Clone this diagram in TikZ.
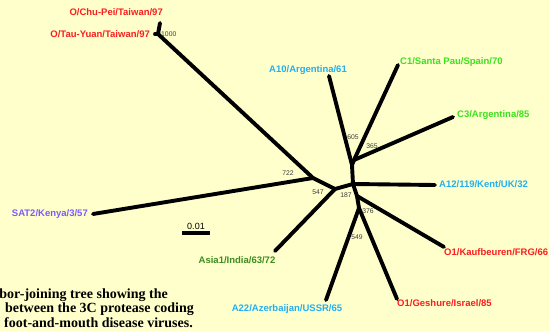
\documentclass[tikz,border=0pt]{standalone}
\usepackage{fontspec}
\setmainfont{Liberation Sans}
\newfontfamily\capfont{Liberation Serif}
\usetikzlibrary{positioning}
\definecolor{bgyellow}{RGB}{255,255,204}
\definecolor{taxred}{RGB}{250,30,30}
\definecolor{taxblue}{RGB}{35,175,240}
\definecolor{taxgreen}{RGB}{60,225,30}
\definecolor{asiagreen}{RGB}{60,140,30}
\definecolor{satpurple}{RGB}{125,90,255}
\definecolor{bootgray}{RGB}{60,60,60}

\begin{document}
\begin{tikzpicture}[x=1pt, y=-1pt,
  branch/.style={line width=3.9pt, line cap=round, line join=round},
  taxon/.style={font=\fontsize{9.5}{11}\selectfont\bfseries, inner sep=0pt},
  boot/.style={font=\fontsize{6.8}{8}\selectfont, text=bootgray, inner sep=0pt},
  captext/.style={font=\fontsize{14}{14}\selectfont\capfont\bfseries, inner sep=0pt, anchor=east}]

\clip (0,0) rectangle (549,331);
\fill[bgyellow] (0,0) rectangle (549,331);

% ---- internal nodes ----
\coordinate (tw) at (158,34);
\coordinate (n722) at (313,178);
\coordinate (n547) at (335,189);
\coordinate (n187) at (353,184);
\coordinate (nA) at (352,165);
\coordinate (nC) at (354,160);
\coordinate (nK) at (357,196);
\coordinate (n376) at (359,208);

% ---- tips ----
\coordinate (chupei) at (160,23);
\coordinate (tauyuan) at (155,34);
\coordinate (sat2) at (93,214);
\coordinate (asia1) at (275,251);
\coordinate (a10) at (329,76);
\coordinate (c1) at (398,65);
\coordinate (c3) at (453,117);
\coordinate (a12) at (435,185);
\coordinate (kauf) at (444,247);
\coordinate (a22) at (326,300);
\coordinate (geshure) at (397,299);

% ---- branches ----
\draw[branch] (tw) -- (chupei);
\draw[branch] (tw) -- (tauyuan);
\draw[branch] (tw) -- (n722);
\draw[branch] (n722) -- (sat2);
\draw[branch] (n722) -- (n547);
\draw[branch] (n547) -- (asia1);
\draw[branch] (n547) -- (n187);
\draw[branch] (n187) -- (nA);
\draw[branch] (nA) -- (a10);
\draw[branch] (nA) -- (nC);
\draw[branch] (nC) -- (c1);
\draw[branch] (nC) -- (c3);
\draw[branch] (n187) -- (a12);
\draw[branch] (n187) -- (nK);
\draw[branch] (nK) -- (kauf);
\draw[branch] (nK) -- (n376);
\draw[branch] (n376) -- (a22);
\draw[branch] (n376) -- (geshure);

% ---- taxon labels ----
\node[taxon, text=taxred, anchor=east] (lchupei) at (163,12) {O/Chu-Pei/Taiwan/97};
\node[taxon, text=taxred, anchor=east] (ltauyuan) at (150,34) {O/Tau-Yuan/Taiwan/97};
\node[taxon, text=satpurple, anchor=east] (lsat2) at (88,214) {SAT2/Kenya/3/57};
\node[taxon, text=asiagreen] (lasia1) at (237,260) {Asia1/India/63/72};
\node[taxon, text=taxblue] (la10) at (308,70) {A10/Argentina/61};
\node[taxon, text=taxgreen, anchor=west] (lc1) at (400,62) {C1/Santa Pau/Spain/70};
\node[taxon, text=taxgreen, anchor=west] (lc3) at (457,115) {C3/Argentina/85};
\node[taxon, text=taxblue, anchor=west] (la12) at (439,184) {A12/119/Kent/UK/32};
\node[taxon, text=taxred, anchor=west] (lkauf) at (444,252) {O1/Kaufbeuren/FRG/66};
\node[taxon, text=taxblue] (la22) at (287,309) {A22/Azerbaijan/USSR/65};
\node[taxon, text=taxred, anchor=west] (lgeshure) at (397,303) {O1/Geshure/Israel/85};

% ---- bootstrap values ----
\node[boot, anchor=west] (b1000) at (161,34) {1000};
\node[boot] (b722) at (288,173) {722};
\node[boot] (b547) at (318,192) {547};
\node[boot] (b187) at (346,195) {187};
\node[boot] (b605) at (353,137) {605};
\node[boot] (b365) at (372,146) {365};
\node[boot] (b376) at (368,211) {376};
\node[boot] (b549) at (357,237) {549};

% ---- scale bar ----
\coordinate (sbl) at (182,233);
\coordinate (sbr) at (210,233);
\draw[line width=3.2pt] (sbl) -- (sbr);
\node[font=\fontsize{9}{10}\selectfont, inner sep=0pt] (sblabel) at (196,226) {0.01};

% ---- caption ----
\node[captext] (cap1) at (168,295) {bor-joining tree showing the};
\node[captext] (cap2) at (194,309) {between the 3C protease coding};
\node[captext] (cap3) at (193,323) {foot-and-mouth disease viruses.};
\end{tikzpicture}
\end{document}
